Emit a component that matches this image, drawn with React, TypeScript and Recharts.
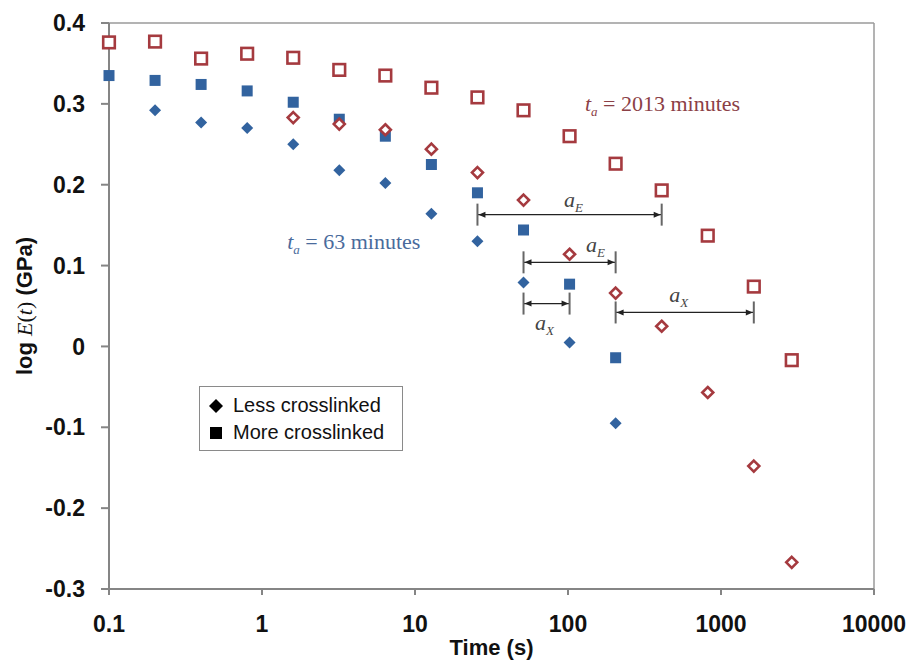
import React from "react";
import {
  ScatterChart,
  Scatter,
  XAxis,
  YAxis,
  ReferenceLine,
  ReferenceDot,
} from "recharts";

// Relaxation times (s) shared by all four runs
const timeS = [
  0.1, 0.2, 0.4, 0.8, 1.6, 3.2, 6.4, 12.8, 25.6, 51.2, 102.4, 204.8, 409.6,
  819.2, 1638.4, 2900,
];

// log E(t) in GPa, aged 63 minutes (filled markers)
const lessYoung = [0.292, 0.277, 0.27, 0.25, 0.218, 0.202, 0.164, 0.13, 0.079, 0.005, -0.095]; // from 0.2 s
const moreYoung = [0.335, 0.329, 0.324, 0.316, 0.302, 0.281, 0.26, 0.225, 0.19, 0.144, 0.077, -0.014]; // from 0.1 s

// log E(t) in GPa, aged 2013 minutes (open markers)
const lessAged = [0.283, 0.275, 0.268, 0.244, 0.215, 0.181, 0.114, 0.066, 0.025, -0.057, -0.148, -0.267]; // from 1.6 s
const moreAged = [0.376, 0.377, 0.356, 0.362, 0.357, 0.342, 0.335, 0.32, 0.308, 0.292, 0.26, 0.226, 0.193, 0.137, 0.074, -0.017]; // from 0.1 s

// Horizontal shift factors drawn as double arrows
const shiftFrom = [25.6, 51.2, 51.2, 204.8];
const shiftTo = [409.6, 204.8, 102.4, 1638.4];
const shiftLevel = [0.163, 0.104, 0.053, 0.042];
const shiftName = ["E", "E", "X", "X"];

const xTicks = [0.1, 1, 10, 100, 1000, 10000];
const yTicks = [-0.3, -0.2, -0.1, 0, 0.1, 0.2, 0.3, 0.4];

const BLUE = "#32639f";
const RED = "#a53a3f";
const AXIS = "#858585";
const SANS = "'Liberation Sans', Arial, sans-serif";
const SERIF = "'Liberation Serif', 'Times New Roman', serif";

const toPoints = (vals: number[], start: number) =>
  vals.map((v, i) => ({ t: timeS[start + i], v }));

const lessYoungPts = toPoints(lessYoung, 1);
const moreYoungPts = toPoints(moreYoung, 0);
const lessAgedPts = toPoints(lessAged, 4);
const moreAgedPts = toPoints(moreAged, 0);

function FilledDiamond({ cx, cy }: any) {
  const r = 6;
  return (
    <polygon
      points={`${cx},${cy - r} ${cx + r},${cy} ${cx},${cy + r} ${cx - r},${cy}`}
      fill={BLUE}
    />
  );
}

function FilledSquare({ cx, cy }: any) {
  return <rect x={cx - 5.5} y={cy - 5.5} width={11} height={11} fill={BLUE} />;
}

function OpenDiamond({ cx, cy }: any) {
  const r = 5.5;
  return (
    <polygon
      points={`${cx},${cy - r} ${cx + r},${cy} ${cx},${cy + r} ${cx - r},${cy}`}
      fill="#fff"
      stroke={RED}
      strokeWidth={2.6}
    />
  );
}

function OpenSquare({ cx, cy }: any) {
  return (
    <rect
      x={cx - 5.8}
      y={cy - 5.8}
      width={11.6}
      height={11.6}
      fill="#fff"
      stroke={RED}
      strokeWidth={2.6}
    />
  );
}

// Double-headed arrow with end bars and an italic a_sub label
function ShiftArrow({ x1, y1, x2, sub, lx, ly }: any) {
  const bar = 11;
  const head = 7;
  return (
    <g>
      <line x1={x1} y1={y1} x2={x2} y2={y1} stroke="#222" strokeWidth={1.3} />
      <polygon
        points={`${x1 + 1},${y1} ${x1 + 1 + head},${y1 - 3} ${x1 + 1 + head},${y1 + 3}`}
        fill="#222"
      />
      <polygon
        points={`${x2 - 1},${y1} ${x2 - 1 - head},${y1 - 3} ${x2 - 1 - head},${y1 + 3}`}
        fill="#222"
      />
      <line x1={x1} y1={y1 - bar} x2={x1} y2={y1 + bar} stroke="#666" strokeWidth={2} />
      <line x1={x2} y1={y1 - bar} x2={x2} y2={y1 + bar} stroke="#666" strokeWidth={2} />
      <text
        x={(x1 + x2) / 2 + lx}
        y={y1 + ly}
        textAnchor="middle"
        fontFamily={SERIF}
        fontStyle="italic"
        fontSize={22}
        fill="#444"
      >
        a
        <tspan fontSize={13} dy={5}>
          {sub}
        </tspan>
      </text>
    </g>
  );
}

const arrowLabelOffset = [
  { lx: 4, ly: -8 },
  { lx: 26, ly: -10 },
  { lx: -2, ly: 26 },
  { lx: -6, ly: -10 },
];

function AgeNote({ cx, cy, minutes, color }: any) {
  return (
    <text x={cx} y={cy} fontFamily={SERIF} fontSize={22} fill={color}>
      <tspan fontStyle="italic">t</tspan>
      <tspan fontSize={13} dy={5} fontStyle="italic">
        a
      </tspan>
      <tspan dy={-5}>{` = ${minutes} minutes`}</tspan>
    </text>
  );
}

function YTitle({ viewBox }: any) {
  const cx = viewBox.x + 24;
  const cy = viewBox.y + viewBox.height / 2;
  return (
    <text
      x={cx}
      y={cy}
      transform={`rotate(-90 ${cx} ${cy})`}
      textAnchor="middle"
      dominantBaseline="central"
      fontSize={22}
      fill="#111"
    >
      <tspan fontFamily={SANS} fontWeight="bold">
        {"log "}
      </tspan>
      <tspan fontFamily={SERIF} fontStyle="italic">
        E
      </tspan>
      <tspan fontFamily={SERIF}>(</tspan>
      <tspan fontFamily={SERIF} fontStyle="italic">
        t
      </tspan>
      <tspan fontFamily={SERIF}>)</tspan>
      <tspan fontFamily={SANS} fontWeight="bold">
        {" (GPa)"}
      </tspan>
    </text>
  );
}

function LegendBox() {
  const row = { display: "flex", alignItems: "center", height: 27 } as const;
  return (
    <div
      style={{
        position: "absolute",
        left: 199,
        top: 386,
        width: 204,
        height: 65,
        border: "1.5px solid #8a8a8a",
        background: "#fff",
        fontFamily: SANS,
        fontSize: 20,
        color: "#111",
        padding: "5px 0 0 9px",
        boxSizing: "border-box",
      }}
    >
      <div style={row}>
        <svg width={14} height={14} style={{ marginRight: 10 }}>
          <polygon points="7,0 14,7 7,14 0,7" fill="#000" />
        </svg>
        Less crosslinked
      </div>
      <div style={row}>
        <svg width={14} height={14} style={{ marginRight: 10 }}>
          <rect x={1} y={1} width={12} height={12} fill="#000" />
        </svg>
        More crosslinked
      </div>
    </div>
  );
}

export default function App() {
  const tickStyle = { fontSize: 23, fontWeight: "bold", fill: "#111", fontFamily: SANS };
  return (
    <div
      style={{
        position: "absolute",
        left: 0,
        top: 0,
        width: 912,
        height: 661,
        background: "#fff",
        fontFamily: SANS,
      }}
    >
      <ScatterChart
        width={912}
        height={661}
        margin={{ top: 23, right: 38, bottom: 0, left: 0 }}
      >
        <XAxis
          type="number"
          dataKey="t"
          scale="log"
          domain={[0.1, 10000]}
          ticks={xTicks}
          height={72}
          tickFormatter={(v) => String(v)}
          tick={tickStyle}
          tickSize={6}
          tickMargin={21}
          stroke={AXIS}
          strokeWidth={2}
          label={{
            value: "Time (s)",
            position: "insideBottom",
            offset: 6,
            style: { fontSize: 22, fontWeight: "bold", fill: "#111", fontFamily: SANS },
          }}
        />
        <YAxis
          type="number"
          dataKey="v"
          domain={[-0.3, 0.4]}
          ticks={yTicks}
          width={109}
          tickFormatter={(v) => (v === 0 ? "0" : v.toFixed(1))}
          tick={tickStyle}
          tickSize={8}
          tickMargin={16}
          stroke={AXIS}
          strokeWidth={2}
          label={{ content: (p: any) => <YTitle viewBox={p.viewBox} /> }}
        />
        {/* plot frame, top and right */}
        <ReferenceLine y={0.4} stroke="#9a9a9a" strokeWidth={1.5} />
        <ReferenceLine x={10000} stroke="#9a9a9a" strokeWidth={1.5} />

        <Scatter data={lessYoungPts} isAnimationActive={false} shape={(p: any) => <FilledDiamond cx={p.cx} cy={p.cy} />} />
        <Scatter data={moreYoungPts} isAnimationActive={false} shape={(p: any) => <FilledSquare cx={p.cx} cy={p.cy} />} />
        <Scatter data={lessAgedPts} isAnimationActive={false} shape={(p: any) => <OpenDiamond cx={p.cx} cy={p.cy} />} />
        <Scatter data={moreAgedPts} isAnimationActive={false} shape={(p: any) => <OpenSquare cx={p.cx} cy={p.cy} />} />

        {shiftFrom.map((from, i) => (
          <ReferenceLine
            key={`shift-${i}`}
            segment={[
              { x: from, y: shiftLevel[i] },
              { x: shiftTo[i], y: shiftLevel[i] },
            ]}
            shape={(p: any) => (
              <ShiftArrow
                x1={p.x1}
                y1={p.y1}
                x2={p.x2}
                sub={shiftName[i]}
                lx={arrowLabelOffset[i].lx}
                ly={arrowLabelOffset[i].ly}
              />
            )}
          />
        ))}

        <ReferenceDot
          x={1.46}
          y={0.121}
          r={0}
          shape={(p: any) => <AgeNote cx={p.cx} cy={p.cy} minutes="63" color="#4a6b9c" />}
        />
        <ReferenceDot
          x={129}
          y={0.291}
          r={0}
          shape={(p: any) => <AgeNote cx={p.cx} cy={p.cy} minutes="2013" color="#8b4046" />}
        />
      </ScatterChart>
      <LegendBox />
    </div>
  );
}
